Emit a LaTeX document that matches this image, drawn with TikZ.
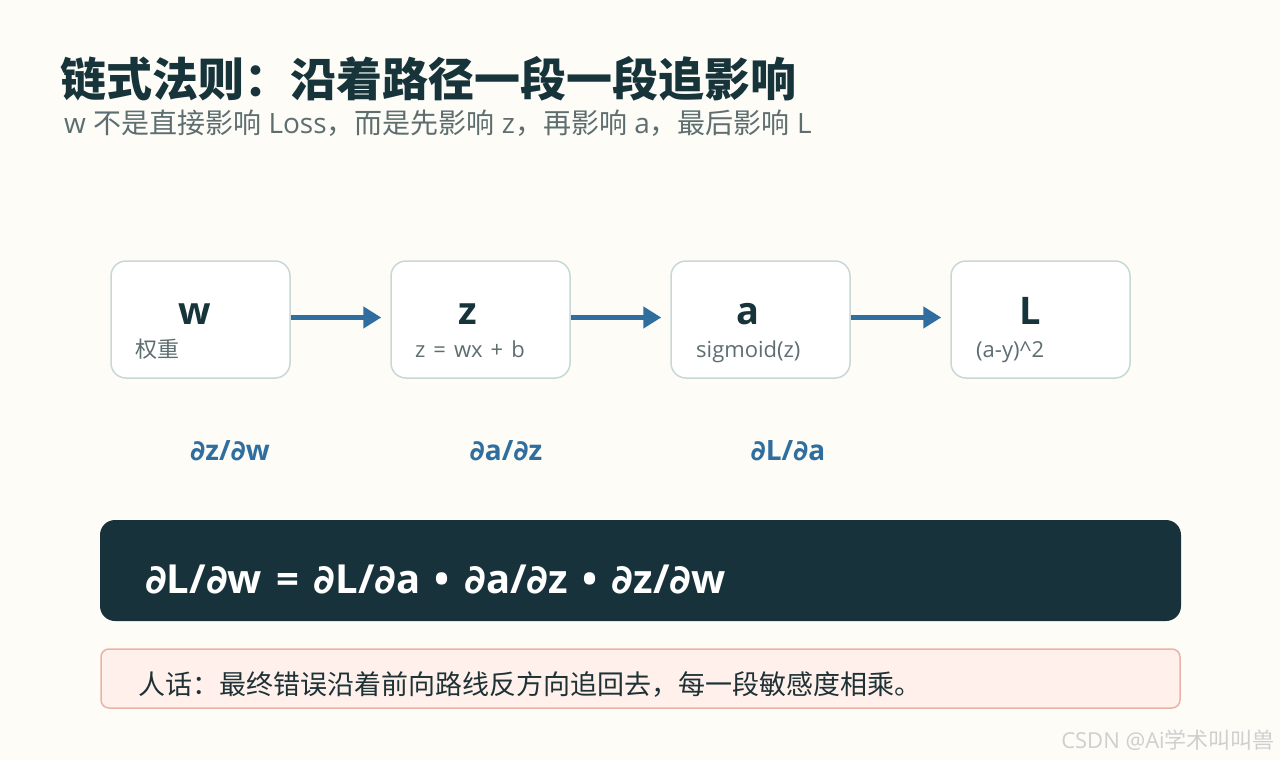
\documentclass[tikz,border=0pt]{standalone}
\usepackage{fontspec}
\setmainfont{Open Sans}
\newfontfamily\cjkfont{Noto Sans CJK SC}
\newfontfamily\symfont{DejaVu Sans}
\newcommand{\zhs}[1]{{\cjkfont #1}}
\newcommand{\pd}{{\symfont ∂}}
\newcommand{\gapsp}{\hspace{0.36em}}
\usetikzlibrary{arrows.meta}
\definecolor{bg}{HTML}{FDFCF7}
\definecolor{ink}{HTML}{17343B}
\definecolor{subink}{HTML}{5E6E70}
\definecolor{boxline}{HTML}{C9D8D6}
\definecolor{blue1}{HTML}{2F6E9F}
\definecolor{dark}{HTML}{17323A}
\definecolor{notefill}{HTML}{FFF0EC}
\definecolor{noteline}{HTML}{EBB3A5}
\definecolor{noteink}{HTML}{1E3236}
\definecolor{wm}{HTML}{CFCFCF}
\tikzset{
  stagebox/.style={draw=boxline, line width=1.5pt, fill=white, rounded corners=15pt,
    minimum width=179pt, minimum height=117pt, inner sep=0pt},
  mainlbl/.style={font=\fontsize{38}{42}\selectfont\bfseries, text=ink, anchor=base, inner sep=0pt},
  sublbl/.style={font=\fontsize{22}{26}\selectfont, text=subink, anchor=base west, inner sep=0pt},
  flow/.style={draw=blue1, line width=5pt, -{Triangle[length=18pt, width=21pt]}},
  deriv/.style={font=\fontsize{28}{32}\selectfont\bfseries, text=blue1, anchor=base, inner sep=0pt},
}
\begin{document}
\begin{tikzpicture}[x=1pt, y=-1pt]
\fill[bg] (0,0) rectangle (1280,760);
\useasboundingbox (0,0) rectangle (1280,760);

\node[anchor=base west, inner sep=0pt, text=ink, font=\fontsize{46}{52}\selectfont\bfseries\cjkfont] (title) at (60,96) {链式法则：沿着路径一段一段追影响};
\node[anchor=base west, inner sep=0pt, text=subink, font=\fontsize{28}{32}\selectfont] (subtitle) at (64,133) {w \zhs{不是直接影响} Loss\zhs{，而是先影响} z\zhs{，再影响} a\zhs{，最后影响} L};

\node[stagebox] (bw) at (200.5,319.5) {};
\node[stagebox] (bz) at (480.5,319.5) {};
\node[stagebox] (ba) at (760.5,319.5) {};
\node[stagebox] (bL) at (1040.5,319.5) {};

\node[mainlbl] (lw) at (195,324) {w};
\node[mainlbl] (lz) at (468,324) {z};
\node[mainlbl] (la) at (748,324) {a};
\node[mainlbl] (lL) at (1030,324) {L};

\node[sublbl] (sw) at (135,357) {\zhs{权重}};
\node[sublbl] (sz) at (415,357) {z\hspace{8pt}=\hspace{8pt}wx\hspace{8pt}+\hspace{8pt}b};
\node[sublbl] (sa) at (696,357) {sigmoid(z)};
\node[sublbl] (sL) at (976,357) {(a-y)\^{}2};

\draw[flow] ([yshift=2pt]bw.east) -- ([xshift=-9pt,yshift=2pt]bz.west);
\draw[flow] ([yshift=2pt]bz.east) -- ([xshift=-9pt,yshift=2pt]ba.west);
\draw[flow] ([yshift=2pt]ba.east) -- ([xshift=-9pt,yshift=2pt]bL.west);

\node[deriv] (d1) at (230,460) {\pd z/\pd w};
\node[deriv] (d2) at (506,460) {\pd a/\pd z};
\node[deriv] (d3) at (788,460) {\pd L/\pd a};

\node[fill=dark, rounded corners=15pt, minimum width=1081pt, minimum height=101pt, inner sep=0pt] (formula) at (640.5,570.5) {};
\node[anchor=base west, inner sep=0pt, text=white, font=\fontsize{40}{44}\selectfont\bfseries] (ftext) at (145,593) {\pd L/\pd w\gapsp=\gapsp\pd L/\pd a\gapsp•\gapsp\pd a/\pd z\gapsp•\gapsp\pd z/\pd w};

\node[fill=notefill, draw=noteline, line width=1.5pt, rounded corners=8pt, minimum width=1079pt, minimum height=59pt, inner sep=0pt] (note) at (640.5,678.5) {};
\node[anchor=base west, inner sep=0pt, text=noteink, font=\fontsize{27}{32}\selectfont\cjkfont] (ntext) at (138,694) {人话：最终错误沿着前向路线反方向追回去，每一段敏感度相乘。};

\node[anchor=base east, inner sep=0pt, text=wm, font=\fontsize{22}{26}\selectfont] (wmark) at (1275,748) {CSDN @Ai\zhs{学术叫叫兽}};
\end{tikzpicture}
\end{document}
